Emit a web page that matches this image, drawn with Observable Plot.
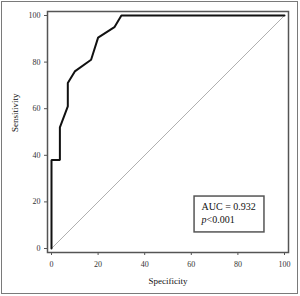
<!DOCTYPE html>
<html>
<head>
<meta charset="utf-8">
<script src="https://cdn.jsdelivr.net/npm/d3@7"></script>
<script src="https://cdn.jsdelivr.net/npm/@observablehq/plot@0.6"></script>
<style>
  html, body { margin: 0; padding: 0; background: #fff; }
  #wrap { position: relative; width: 300px; height: 296px; }
  #border { position: absolute; left: 1px; top: 1px; width: 295px; height: 291px; border: 1.5px solid #7a7a7a; pointer-events: none; }
  #chart svg { display: block; }
</style>
</head>
<body>
<div id="wrap"><div id="chart"></div><div id="border"></div></div>
<script>
// ROC curve points (specificity axis as labelled, sensitivity)
const specificity = [0, 0, 3.6, 3.6, 7, 7, 10, 17, 20, 27, 30, 100];
const sensitivity = [0, 38, 38, 52, 61, 71, 76, 81, 90.5, 95, 100, 100];
const reference = [0, 100];
const ticks = [0, 20, 40, 60, 80, 100];
const aucText = "AUC = 0.932";
const pLabel = "p";
const pText = "<0.001";

const roc = specificity.map((x, i) => ({x, y: sensitivity[i]}));
const diag = reference.map(v => ({x: v, y: v}));

const font = "'Liberation Serif', 'DejaVu Serif', serif";

const chart = Plot.plot({
  width: 300,
  height: 296,
  marginLeft: 51,
  marginRight: 16,
  marginTop: 15,
  marginBottom: 48,
  style: {fontFamily: font, fontSize: "8px", color: "#333", background: "white"},
  x: {domain: [0, 100]},
  y: {domain: [0, 100]},
  marks: [
    Plot.frame({inset: -4, stroke: "#555", strokeWidth: 1.5}),
    Plot.axisX({ticks, tickSize: 3, dy: 4, tickPadding: 6, stroke: "#555", label: null, fontSize: 8}),
    Plot.axisY({ticks, tickSize: 3, dx: -4, tickPadding: 4, stroke: "#555", label: null, fontSize: 8}),
    Plot.line(diag, {x: "x", y: "y", stroke: "#b0b0b0", strokeWidth: 1}),
    Plot.line(roc, {x: "x", y: "y", stroke: "#111", strokeWidth: 2, strokeLinejoin: "miter"}),
    Plot.rect([{x1: 61.4, x2: 91.4, y1: 6.9, y2: 22.3}], {x1: "x1", x2: "x2", y1: "y1", y2: "y2", fill: "white", stroke: "#555", strokeWidth: 1.5}),
    Plot.text([aucText], {x: 64.4, y: 17.7, text: d => d, textAnchor: "start", fontSize: 10, fill: "#111"}),
    Plot.text([pLabel], {x: 64.4, y: 12.5, text: d => d, textAnchor: "start", fontSize: 10, fontStyle: "italic", fill: "#111"}),
    Plot.text([pText], {x: 64.4, y: 12.5, dx: 5, text: d => d, textAnchor: "start", fontSize: 10, fill: "#111"}),
    Plot.text(["Specificity"], {frameAnchor: "bottom", dy: 35, text: d => d, fontSize: 9, fill: "#111"}),
    Plot.text(["Sensitivity"], {frameAnchor: "left", dx: -36, rotate: -90, text: d => d, fontSize: 9, fill: "#111"})
  ]
});
document.getElementById("chart").appendChild(chart);
</script>
</body>
</html>
